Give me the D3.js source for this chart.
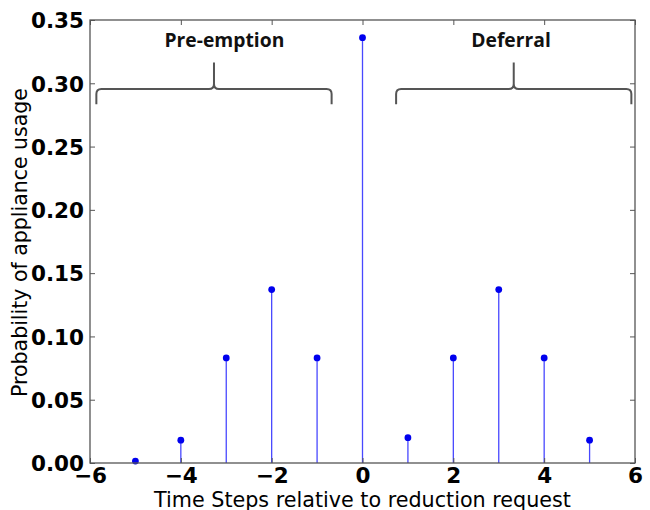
<!DOCTYPE html>
<html><head><meta charset="utf-8">
<script src="https://cdn.jsdelivr.net/npm/d3@7"></script>
<style>body{margin:0;background:#fff}svg{display:block}</style>
</head><body><svg id="c" width="650" height="510"></svg>
<script>
const steps = [-5,-4,-3,-2,-1,0,1,2,3,4,5];
const probs = [0.0015,0.018,0.083,0.137,0.083,0.336,0.020,0.083,0.137,0.083,0.018];
const xTicks = [-6,-4,-2,0,2,4,6];
const yTicks = [0,0.05,0.10,0.15,0.20,0.25,0.30,0.35];
const braceLabels = ["Pre-emption","Deferral"];
const braceStart = [-5.86, 0.74];
const braceEnd = [-0.68, 5.92];
const labelX = [-3.04, 3.27];

const svg = d3.select("#c");
const L=90, R=635, T=20, B=463;
const x = d3.scaleLinear().domain([-6,6]).range([L,R]);
const y = d3.scaleLinear().domain([0,0.35]).range([B,T]);
const tickFont = "'DejaVu Sans', sans-serif";

// stems
svg.append("g").selectAll("line").data(steps).join("line")
  .attr("x1",d=>x(d)).attr("x2",d=>x(d))
  .attr("y1",y(0)).attr("y2",(d,i)=>y(probs[i]))
  .attr("stroke","#4848ff").attr("stroke-width",1.3);
svg.append("g").selectAll("circle").data(steps).join("circle")
  .attr("cx",d=>x(d)).attr("cy",(d,i)=>y(probs[i])).attr("r",3.4)
  .attr("fill","#0000ee");

// frame
svg.append("rect").attr("x",L).attr("y",T).attr("width",R-L).attr("height",B-T)
  .attr("fill","none").attr("stroke","#555").attr("stroke-width",1.3);

// axes with inward ticks
const xb = svg.append("g").attr("transform",`translate(0,${B})`)
  .call(d3.axisBottom(x).tickValues(xTicks).tickSize(-5).tickFormat(d=>d<0?"\u2212"+Math.abs(d):d));
const xt = svg.append("g").attr("transform",`translate(0,${T})`)
  .call(d3.axisTop(x).tickValues(xTicks).tickSize(-5).tickFormat(""));
const yl = svg.append("g").attr("transform",`translate(${L},0)`)
  .call(d3.axisLeft(y).tickValues(yTicks).tickSize(-5).tickPadding(6).tickFormat(d3.format(".2f")));
const yr = svg.append("g").attr("transform",`translate(${R},0)`)
  .call(d3.axisRight(y).tickValues(yTicks).tickSize(-5).tickFormat(""));
[xb,xt,yl,yr].forEach(g=>{
  g.select(".domain").remove();
  g.selectAll(".tick line").attr("stroke","#555");
  g.selectAll("text").attr("font-family",tickFont).attr("font-weight","bold")
   .attr("font-size",21.5).attr("fill","#000");
});
xb.selectAll("text").attr("y",20).attr("dy",0);
yl.selectAll("text").attr("dy","0.36em");

// axis labels
svg.append("text").attr("x",(L+R)/2).attr("y",507).attr("text-anchor","middle")
  .attr("font-family",tickFont).attr("font-size",20.7).text("Time Steps relative to reduction request");
svg.append("text").attr("transform",`translate(27,${(T+B)/2+1}) rotate(-90)`).attr("text-anchor","middle")
  .attr("font-family",tickFont).attr("font-size",20.5).text("Probability of appliance usage");

// braces
const yBar=y(0.2955), yEnd=y(0.2835), yTip=y(0.3165);
braceLabels.forEach((lab,i)=>{
  const x0=x(braceStart[i]), x1=x(braceEnd[i]), m=(x0+x1)/2, r=5;
  const p = d3.path();
  p.moveTo(x0,yEnd);
  p.lineTo(x0,yBar+r);
  p.quadraticCurveTo(x0,yBar,x0+r,yBar);
  p.lineTo(m-r,yBar);
  p.quadraticCurveTo(m,yBar,m,yBar-r);
  p.lineTo(m,yTip);
  p.moveTo(m,yBar-r);
  p.quadraticCurveTo(m,yBar,m+r,yBar);
  p.lineTo(x1-r,yBar);
  p.quadraticCurveTo(x1,yBar,x1,yBar+r);
  p.lineTo(x1,yEnd);
  svg.append("path").attr("d",p.toString()).attr("fill","none")
    .attr("stroke","#555").attr("stroke-width",2);
  svg.append("text").attr("x",x(labelX[i])).attr("y",y(0.3285)).attr("text-anchor","middle")
    .attr("font-family","'Open Sans', sans-serif").attr("font-weight","bold")
    .attr("font-size",19.3).attr("fill","#111").text(lab);
});
</script></body></html>
